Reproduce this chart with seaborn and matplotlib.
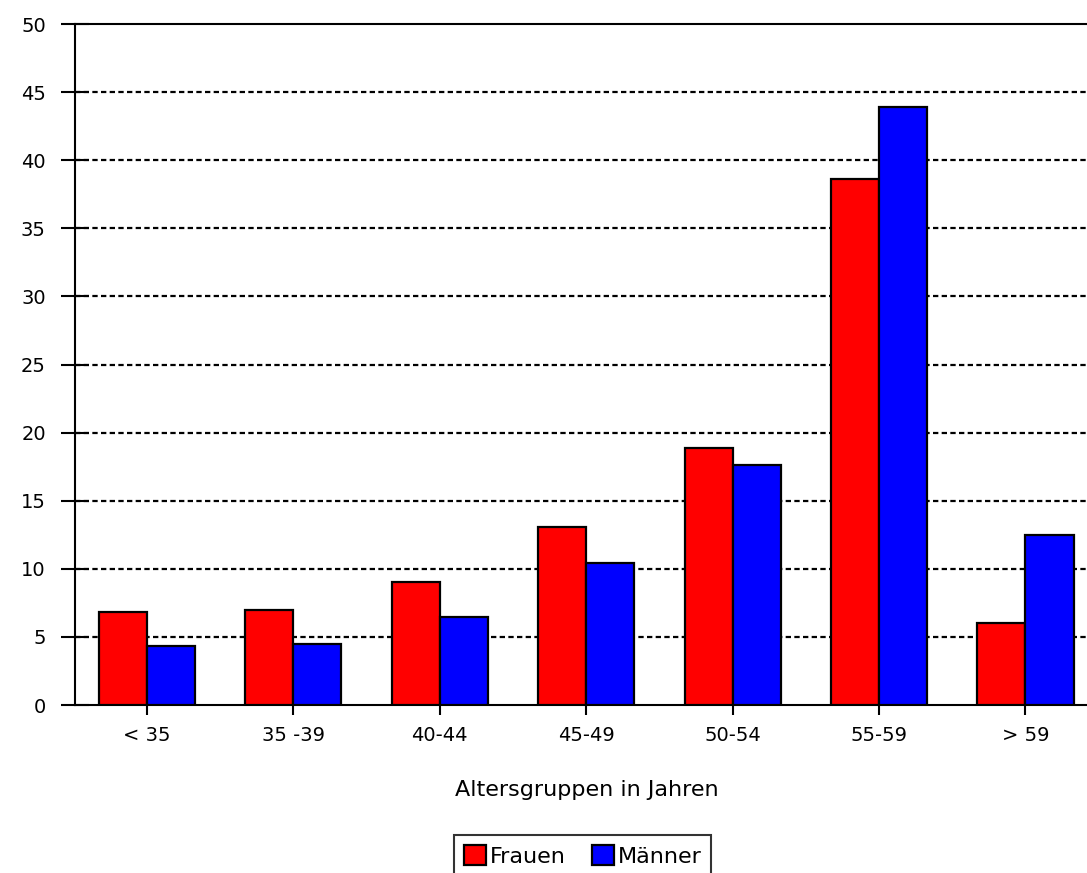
import matplotlib
matplotlib.use("Agg")
import matplotlib.pyplot as plt
import seaborn as sns
import pandas as pd

categories = ["< 35", "35 -39", "40-44", "45-49", "50-54", "55-59", "> 59"]
frauen = [6.8, 7.0, 9.0, 13.1, 18.9, 38.6, 6.0]
maenner = [4.3, 4.5, 6.5, 10.4, 17.6, 43.9, 12.5]
series_names = ["Frauen", "Männer"]
colors = ["#ff0000", "#0000ff"]
y_ticks = [0, 5, 10, 15, 20, 25, 30, 35, 40, 45, 50]

df = pd.DataFrame({
    "Gruppe": categories * 2,
    "Wert": frauen + maenner,
    "Geschlecht": [series_names[0]] * len(categories) + [series_names[1]] * len(categories),
})

sns.set_theme(style="white")
plt.rcParams["font.family"] = ["DejaVu Sans"]
plt.rcParams["text.color"] = "black"
plt.rcParams["xtick.color"] = "black"
plt.rcParams["ytick.color"] = "black"
plt.rcParams["axes.labelcolor"] = "black"

fig = plt.figure(figsize=(10.87, 8.73), dpi=100)
ax = fig.add_axes([0.069, 0.1924, 0.931, 0.7801])

sns.barplot(data=df, x="Gruppe", y="Wert", hue="Geschlecht", order=categories,
            hue_order=series_names, palette=colors, width=0.656,
            edgecolor="black", linewidth=1.6, saturation=1, ax=ax, zorder=3)

ax.set_ylim(0, 50)
ax.set_xlim(-0.49, 6.42)
ax.set_yticks(y_ticks)
ax.set_yticklabels([str(v) for v in y_ticks])
for v in y_ticks[1:-1]:
    ax.axhline(v, color="black", linewidth=1.6, linestyle=(0, (2.4, 1.5)), zorder=1)

for s in ["left", "bottom", "top"]:
    ax.spines[s].set_visible(True)
    ax.spines[s].set_color("black")
    ax.spines[s].set_linewidth(1.5)
ax.spines["right"].set_visible(False)

ax.tick_params(axis="y", direction="inout", length=20, width=1.5, color="black",
               labelsize=14, labelcolor="black", pad=11, left=True)
ax.tick_params(axis="x", direction="out", length=7, width=1.5, color="black",
               labelsize=14, labelcolor="black", pad=8, bottom=True)
ax.set_xlabel("")
ax.set_ylabel("")

fig.text(0.54, 0.095, "Altersgruppen in Jahren", ha="center", va="center",
         fontsize=16, color="black")

handles, labels = ax.get_legend_handles_labels()
if ax.legend_:
    ax.legend_.remove()
leg = fig.legend(handles, labels, loc="upper center", bbox_to_anchor=(0.536, 0.043),
                 ncol=2, frameon=True, fancybox=False, edgecolor="black", fontsize=16,
                 handlelength=1.0, handleheight=1.0, handletextpad=0.15, columnspacing=1.2,
                 borderpad=0.45, borderaxespad=0)
leg.get_frame().set_linewidth(1.5)
for t in leg.get_texts():
    t.set_color("black")

fig.savefig("out.png", dpi=100, facecolor="white")
